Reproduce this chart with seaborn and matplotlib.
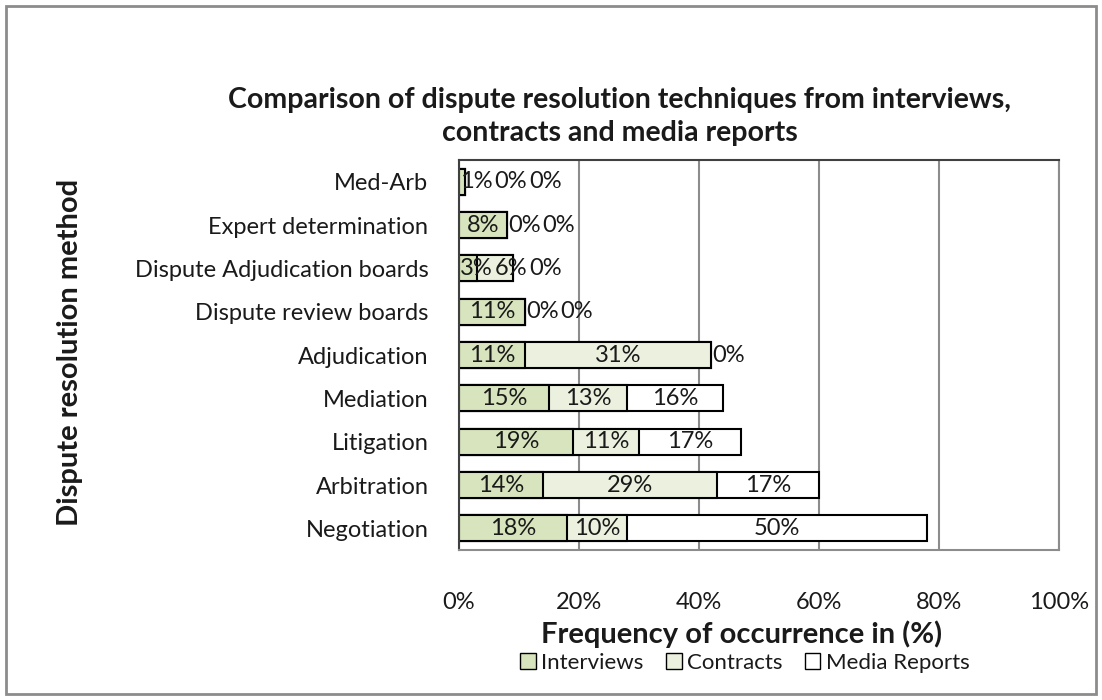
import numpy as np
import pandas as pd
import matplotlib
matplotlib.use('Agg')
import matplotlib.pyplot as plt
import seaborn as sns
from matplotlib.patches import Patch, Rectangle

# Datos (de arriba hacia abajo)
methods = ['Med-Arb', 'Expert determination', 'Dispute Adjudication boards',
           'Dispute review boards', 'Adjudication', 'Mediation', 'Litigation',
           'Arbitration', 'Negotiation']
interviews = [1, 8, 3, 11, 11, 15, 19, 14, 18]
contracts = [0, 0, 6, 0, 31, 13, 11, 29, 10]
media = [0, 0, 0, 0, 0, 16, 17, 17, 50]

series_names = ['Interviews', 'Contracts', 'Media Reports']
colors = ['#d7e4bd', '#ebf1de', '#ffffff']

sns.set_style('white')
plt.rcParams['font.family'] = ['Lato', 'DejaVu Sans']
plt.rcParams['text.color'] = '#1a1a1a'

df = pd.DataFrame({'method': methods, 'Interviews': interviews,
                   'Contracts': contracts, 'Media Reports': media})
df['cum1'] = df['Interviews']
df['cum2'] = df['Interviews'] + df['Contracts']
df['cum3'] = df['cum2'] + df['Media Reports']

fig = plt.figure(figsize=(11.02, 7.0), dpi=100)
ax = fig.add_axes([459 / 1102, 1 - 550 / 700, 600 / 1102, 390 / 700])

# barras apiladas: dibujar de la suma total hacia la primera serie
for col, color in zip(['cum3', 'cum2', 'cum1'], colors[::-1]):
    sns.barplot(data=df, x=col, y='method', order=methods, color=color,
                edgecolor='black', linewidth=1.5, width=0.6, ax=ax,
                saturation=1)

ax.set_xlim(0, 100)
ax.set_xticks(np.arange(0, 101, 20))
ax.set_xticklabels([f'{v}%' for v in range(0, 101, 20)], fontsize=17,
                   color='#1a1a1a')
ax.tick_params(axis='x', length=0, pad=30)
ax.tick_params(axis='y', length=0, pad=22, labelsize=17, labelcolor='#1a1a1a')
ax.set_xlabel('')
ax.set_ylabel('')
ax.grid(axis='x', color='#8c8c8c', linewidth=1.5)
ax.set_axisbelow(True)
for s in ax.spines.values():
    s.set_visible(True)
    s.set_color('#404040')
    s.set_linewidth(1.5)
ax.spines['bottom'].set_color('#8c8c8c')
ax.spines['right'].set_color('#8c8c8c')

# etiquetas de datos centradas, separadas si se solapan
texts_by_row = []
for i, row in df.iterrows():
    starts = [0, row['cum1'], row['cum2']]
    vals = [row['Interviews'], row['Contracts'], row['Media Reports']]
    row_texts = []
    for s, v in zip(starts, vals):
        t = ax.text(s + v / 2, i, f'{v}%', ha='center', va='center', fontsize=17)
        row_texts.append((t, v, row['cum3']))
    texts_by_row.append(row_texts)

fig.canvas.draw()
renderer = fig.canvas.get_renderer()
inv = ax.transData.inverted()
left_px = ax.transData.transform((0, 0))[0]
for row_texts in texts_by_row:
    prev_right = left_px + 1
    for t, v, total in row_texts:
        if v == 0:
            end_px = ax.transData.transform((total, 0))[0]
            prev_right = max(prev_right, end_px + 1)
        bb = t.get_window_extent(renderer)
        shift = max(0, prev_right - bb.x0)
        if shift > 0:
            cx = (bb.x0 + bb.x1) / 2 + shift
            t.set_x(inv.transform((cx, 0))[0])
        prev_right = bb.x1 + shift + 2

fig.text(620 / 1102, 1 - 100 / 700,
         'Comparison of dispute resolution techniques from interviews,',
         ha='center', va='center', fontsize=20.5, fontweight='bold')
fig.text(620 / 1102, 1 - 133 / 700, 'contracts and media reports',
         ha='center', va='center', fontsize=20.5, fontweight='bold')
fig.text(742 / 1102, 1 - 634 / 700, 'Frequency of occurrence in (%)',
         ha='center', va='center', fontsize=21, fontweight='bold')
fig.text(70 / 1102, 1 - 352 / 700, 'Dispute resolution method', rotation=90,
         ha='center', va='center', fontsize=21, fontweight='bold')

handles = [Patch(facecolor=c, edgecolor='black', linewidth=1) for c in colors]
fig.legend(handles, series_names, loc='center', ncol=3, frameon=False,
           bbox_to_anchor=(745 / 1102, 1 - 663 / 700), fontsize=16,
           handlelength=0.7, handleheight=0.7, handletextpad=0.25,
           columnspacing=1.0)

# borde exterior
fig.patches.append(Rectangle((6 / 1102, 6 / 700), 1090 / 1102, 688 / 700,
                             transform=fig.transFigure, fill=False,
                             edgecolor='#8c8c8c', linewidth=2))

fig.savefig('out.png', dpi=100)
